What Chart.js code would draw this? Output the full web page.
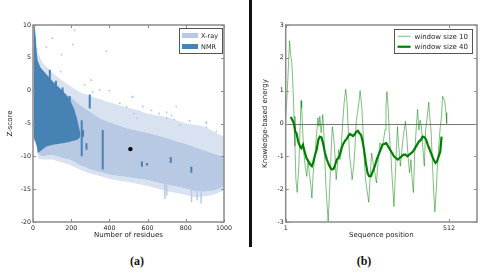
<!DOCTYPE html>
<html>
<head>
<meta charset="utf-8">
<script src="https://cdn.jsdelivr.net/npm/chart.js@4.4.1/dist/chart.umd.min.js"></script>
<style>
  body { margin: 0; background: #fff; width: 500px; height: 275px; position: relative; overflow: hidden; }
  #chart-a { position: absolute; left: 0; top: 0; }
  #chart-b { position: absolute; left: 250px; top: 0; }
  .divider { position: absolute; left: 249px; top: 0; width: 3px; height: 247px; background: #111; }
  .caption { position: absolute; top: 254px; font: bold 12px "Liberation Serif", "DejaVu Serif", serif; color: #111; transform: translateX(-50%); }
</style>
</head>
<body>
<canvas id="chart-a" width="240" height="250"></canvas>
<div class="divider"></div>
<canvas id="chart-b" width="250" height="250"></canvas>
<div class="caption" style="left:137px">(a)</div>
<div class="caption" style="left:364px">(b)</div>

<script>
// ---------- panel (a): Z-score vs number of residues ----------
const envX = [15, 30, 50, 100, 150, 200, 250, 300, 350, 400, 450, 500, 550, 600, 650, 700, 750, 800, 850, 900, 950, 1000];
const xraySparseTop = [7, 5.5, 4.2, 2.8, 1.6, 0.6, -0.3, -0.8, -1.3, -1.8, -2.2, -2.6, -3, -3.5, -3.8, -4, -4.5, -5, -5.2, -5.5, -6.3, -7];
const xrayDenseTop = [5, 3.5, 2.5, 1, 0, -1, -2.3, -3.2, -4.2, -4.8, -5.3, -5.8, -6.1, -6.4, -6.8, -7.2, -7.7, -8.1, -8.6, -9.1, -9.6, -10.1];
const xrayDenseBottom = [-7.5, -9.8, -10, -9.8, -10.2, -10.6, -11.4, -12, -12.4, -12.8, -13, -13.2, -13.4, -13.6, -14, -14.3, -14.6, -14.9, -15.3, -15.4, -15.2, -14.6];
const xraySparseBottom = [-8, -10.4, -10.5, -10.5, -10.9, -11.4, -12.1, -12.6, -13, -13.4, -13.7, -13.9, -14.2, -14.5, -14.9, -15.3, -15.6, -15.9, -16.2, -16.1, -15.8, -15.2];

const nmrX = [3, 8, 15, 20, 25, 40, 70, 110, 155, 190, 215, 230, 240, 248];
const nmrTop = [10, 10, 8, 5.5, 4.5, 3.5, 2.5, 1.2, 0, -1.2, -2.7, -4.2, -5.5, -6.5];
const nmrBottom = [-7, -7.5, -8, -8.5, -9.5, -9.2, -8.5, -8.2, -8, -7.8, -7.6, -7.5, -7.3, -7];

const nmrStreakX = [88, 120, 155, 192, 262, 297, 255, 365, 570, 597, 721, 829, 280];
const nmrStreakTop = [3.2, 1.5, 0.5, -0.8, -6, -0.6, -4.5, -6, -10.8, -11, -10.1, -11.6, -8];
const nmrStreakBottom = [1.8, 0.2, -1, -2, -7, -2.7, -10, -12, -11.6, -11.4, -11, -12.5, -9];

const xrayStreakX = [690, 700, 830, 860, 880];
const xrayStreakTop = [-14, -14.3, -15, -15.3, -15.4];
const xrayStreakBottom = [-16.5, -16, -17, -16.7, -17.2];

const outlierX = [218, 101, 210, 70, 384, 149, 145, 305, 349, 401, 270, 313, 454, 523, 575, 700, 725, 908, 908, 770, 518, 490, 530, 545, 660, 700, 740, 750, 907, 620, 820, 960];
const outlierY = [9.2, 8, 7, 6.6, 6, 5.5, 2.9, 1.6, 0.1, 0, 0.9, -0.2, -1.9, -0.9, -2.4, -3.3, -3.8, -4.8, -5.6, -5.3, -1, -2.5, -3.5, -4.2, -3.5, -4.2, -4.4, -2.4, -5, -3, -4.6, -6.2];

const queryPoint = { x: 510, y: -8.9 };

// ---------- panel (b): knowledge-based energy profile ----------
const win10Pos = [1, 4, 8, 13, 17, 20, 22, 25, 27, 30, 33, 37, 42, 46, 49, 51, 54, 58, 62, 67, 71, 75, 79, 83, 87, 93, 98, 102, 105, 108, 112, 117, 120, 123, 127, 131, 134, 139, 143, 147, 151, 155, 159, 163, 167, 171, 175, 180, 184, 189, 193, 197, 201, 205, 209, 214, 218, 222, 226, 230, 234, 239, 243, 247, 251, 256, 261, 265, 270, 275, 280, 285, 291, 296, 301, 306, 312, 315, 318, 322, 326, 330, 334, 340, 344, 348, 351, 355, 360, 364, 368, 372, 376, 380, 385, 389, 393, 397, 401, 405, 410, 414, 418, 422, 426, 430, 435, 439, 443, 449, 453, 456, 460, 464, 468, 472, 476, 481, 485, 489, 492, 495, 499, 503, 505];
const win10Val = [0.22, 0.63, 1.4, 2.52, 2.06, 1.87, 1.5, 0.83, 0.22, -0.69, -1.71, -2.1, -1.3, -0.18, 0.7, 0.48, -0.18, -0.9, -1.3, -1.61, -1.1, -1.53, -1.81, -2.27, -1.53, -0.9, -0.28, 0.17, -0.09, 0.22, -0.28, 0.27, -0.2, -1.0, -1.92, -2.53, -2.99, -1.92, -0.9, -0.1, -0.4, -0.9, -1.71, -1.3, -0.8, -1.1, -0.69, 0.1, 0.63, 1.04, 0.63, -0.2, -1.0, -1.3, -1.71, -1.3, -0.69, 0.1, 0.33, 0.63, 1.0, 0.53, -0.2, -1.1, -1.71, -2.05, -2.4, -1.71, -0.9, -1.2, -1.5, -1.81, -1.1, -0.59, -0.69, -0.59, -0.2, 0.53, 0.97, 0.43, -0.4, -0.9, -1.61, -2.53, -1.61, -0.69, -0.1, -0.69, -1.3, -0.9, -0.49, -0.2, 0.07, -0.4, -1.1, -1.5, -1.1, -1.71, -2.1, -0.9, -0.1, 0.43, -0.2, 0.1, -0.1, -0.69, -1.3, -0.2, 0.1, 0.65, 0.1, -0.2, -1.1, -2.0, -2.69, -2.1, -1.3, -0.59, -0.1, 0.22, 0.83, 0.78, 0.66, 0.33, 0.0];

const win40Pos = [17, 22, 27, 31, 35, 40, 46, 50, 55, 60, 66, 72, 78, 83, 88, 93, 98, 103, 108, 113, 118, 124, 130, 136, 141, 146, 151, 156, 161, 166, 171, 176, 181, 187, 192, 197, 202, 207, 212, 217, 222, 227, 232, 237, 242, 247, 252, 257, 262, 268, 274, 280, 286, 292, 298, 304, 310, 316, 322, 328, 334, 340, 346, 352, 358, 364, 370, 376, 382, 388, 394, 400, 406, 412, 418, 424, 430, 436, 441, 446, 452, 458, 464, 470, 475, 480, 485, 489];
const win40Val = [0.2, 0.1, 0.0, -0.25, -0.3, -0.55, -0.7, -0.75, -0.65, -0.85, -1.05, -1.15, -1.25, -1.3, -1.15, -0.95, -0.8, -0.5, -0.4, -0.42, -0.6, -0.9, -1.1, -1.25, -1.35, -1.4, -1.38, -1.25, -1.1, -1.05, -0.95, -0.75, -0.62, -0.52, -0.47, -0.38, -0.32, -0.35, -0.38, -0.33, -0.25, -0.22, -0.3, -0.35, -0.55, -0.85, -1.2, -1.5, -1.6, -1.6, -1.45, -1.3, -1.1, -0.95, -0.8, -0.65, -0.62, -0.6, -0.7, -0.8, -0.9, -1.0, -1.05, -1.1, -1.05, -1.0, -0.95, -0.95, -1.0, -0.95, -0.9, -0.85, -0.75, -0.65, -0.55, -0.5, -0.4, -0.42, -0.5, -0.65, -0.8, -0.95, -1.1, -1.2, -1.15, -1.0, -0.85, -0.4];

const seqTicks = [1, 512];

const XRAY = "#b8cae3";
const XRAY_SPARSE = "rgba(184, 202, 227, 0.55)";
const NMR = "#4682b4";
const GREEN = "#008000";
const THIN_GREEN = "rgba(0, 128, 0, 0.5)";

function pts(xs, ys) {
  return xs.map((x, i) => ({ x: x, y: ys[i] }));
}

function segments(xs, tops, bottoms) {
  let out = [];
  xs.forEach((x, i) => {
    out.push({ x: x, y: tops[i] }, { x: x, y: bottoms[i] }, { x: x, y: null });
  });
  return out;
}

// box round the plot, ticks pointing in, optional line at zero
const framePlugin = {
  id: "frame",
  beforeDatasetsDraw(chart, args, opts) {
    if (opts.zeroLine === undefined) return;
    const { ctx, chartArea: a, scales } = chart;
    const py = Math.round(scales.y.getPixelForValue(opts.zeroLine)) + 0.5;
    ctx.save();
    ctx.strokeStyle = "#777";
    ctx.lineWidth = 1;
    ctx.beginPath();
    ctx.moveTo(a.left, py);
    ctx.lineTo(a.right, py);
    ctx.stroke();
    ctx.restore();
  },
  afterDatasetsDraw(chart, args, opts) {
    const { ctx, chartArea: a, scales } = chart;
    const L = 3;
    ctx.save();
    ctx.strokeStyle = "#8a8a8a";
    ctx.lineWidth = 1;
    ctx.beginPath();
    scales.x.ticks.forEach(function (t) {
      const px = Math.round(scales.x.getPixelForValue(t.value)) + 0.5;
      ctx.moveTo(px, a.bottom);
      ctx.lineTo(px, a.bottom - L);
      ctx.moveTo(px, a.top);
      ctx.lineTo(px, a.top + L);
    });
    scales.y.ticks.forEach(function (t) {
      const py = Math.round(scales.y.getPixelForValue(t.value)) + 0.5;
      ctx.moveTo(a.left, py);
      ctx.lineTo(a.left + L, py);
      ctx.moveTo(a.right, py);
      ctx.lineTo(a.right - L, py);
    });
    ctx.stroke();
    ctx.lineWidth = 1.5;
    ctx.strokeRect(a.left, a.top, a.right - a.left, a.bottom - a.top);
    ctx.restore();
  },
};

// legend box inside the plot, top right
const boxLegendPlugin = {
  id: "boxLegend",
  afterDraw(chart, args, opts) {
    const { ctx, chartArea: a } = chart;
    ctx.save();
    ctx.font = opts.fontSize + "px 'DejaVu Sans'";
    let textW = 0;
    opts.items.forEach(function (it) {
      textW = Math.max(textW, ctx.measureText(it.label).width);
    });
    const w = opts.textX + textW + 4;
    const h = opts.rowH * opts.items.length + 3;
    const x0 = a.right - opts.right - w;
    const y0 = a.top + opts.top;
    ctx.fillStyle = "#fff";
    ctx.fillRect(x0, y0, w, h);
    ctx.strokeStyle = "#555";
    ctx.lineWidth = 1;
    ctx.strokeRect(Math.round(x0) + 0.5, Math.round(y0) + 0.5, Math.round(w), Math.round(h));
    opts.items.forEach(function (it, i) {
      const cy = y0 + 2 + opts.rowH * (i + 0.5);
      if (it.kind === "patch") {
        ctx.fillStyle = it.color;
        ctx.fillRect(x0 + 3, cy - 2.5, 16, 5);
      } else {
        ctx.strokeStyle = it.color;
        ctx.lineWidth = it.width;
        ctx.beginPath();
        ctx.moveTo(x0 + 4, cy);
        ctx.lineTo(x0 + 17, cy);
        ctx.stroke();
      }
      ctx.fillStyle = "#222";
      ctx.textBaseline = "middle";
      ctx.fillText(it.label, x0 + opts.textX, cy + 0.5);
    });
    ctx.restore();
  },
};

const tickFont = { family: "DejaVu Sans", size: 6.3 };
const titleFont = { family: "DejaVu Sans", size: 7 };
const plainTick = function (v) { return String(v); };

new Chart(document.getElementById("chart-a"), {
  type: "line",
  data: {
    datasets: [
      { data: pts(envX, xraySparseTop), fill: 1, backgroundColor: XRAY_SPARSE, borderWidth: 0, pointRadius: 0, order: 9 },
      { data: pts(envX, xrayDenseTop), fill: 2, backgroundColor: XRAY, borderWidth: 0, pointRadius: 0, order: 8 },
      { data: pts(envX, xrayDenseBottom), fill: 3, backgroundColor: XRAY_SPARSE, borderWidth: 0, pointRadius: 0, order: 7 },
      { data: pts(envX, xraySparseBottom), fill: false, borderWidth: 0, pointRadius: 0, order: 6 },
      { data: pts(nmrX, nmrTop), fill: 5, backgroundColor: NMR, borderWidth: 0, pointRadius: 0, order: 4 },
      { data: pts(nmrX, nmrBottom), fill: false, borderWidth: 0, pointRadius: 0, order: 4 },
      { data: segments(xrayStreakX, xrayStreakTop, xrayStreakBottom), borderColor: XRAY, borderWidth: 1.5, pointRadius: 0, spanGaps: false, order: 5 },
      { data: segments(nmrStreakX, nmrStreakTop, nmrStreakBottom), borderColor: NMR, borderWidth: 2, pointRadius: 0, spanGaps: false, order: 3 },
      { data: pts(outlierX, outlierY), showLine: false, pointStyle: "rect", pointRadius: 1.2, pointBackgroundColor: XRAY, pointBorderWidth: 0, order: 2 },
      { data: [queryPoint], showLine: false, pointRadius: 2.2, pointBackgroundColor: "#000", pointBorderWidth: 0, order: 0 },
    ],
  },
  options: {
    responsive: false,
    animation: false,
    layout: { padding: { top: 25, right: 16, left: 0, bottom: 0 } },
    plugins: {
      legend: { display: false },
      tooltip: { enabled: false },
      frame: {},
      boxLegend: {
        fontSize: 6.5, textX: 22, rowH: 11, right: 2, top: 3,
        items: [
          { kind: "patch", label: "X-ray", color: XRAY },
          { kind: "patch", label: "NMR", color: NMR },
        ],
      },
    },
    scales: {
      x: {
        type: "linear", min: 0, max: 1000,
        ticks: { stepSize: 200, font: tickFont, color: "#222", padding: 3, maxRotation: 0, callback: plainTick },
        grid: { display: false, drawTicks: false },
        border: { display: false },
        title: { display: true, text: "Number of residues", font: titleFont, color: "#222", padding: { top: 0, bottom: 11 } },
        afterFit: function (s) { s.height = 28; },
      },
      y: {
        type: "linear", min: -20, max: 10,
        ticks: { stepSize: 5, font: tickFont, color: "#222", padding: 2, callback: plainTick },
        grid: { display: false, drawTicks: false },
        border: { display: false },
        title: { display: true, text: "Z-score", font: titleFont, color: "#222", padding: { top: 6.3, bottom: 0 } },
        afterFit: function (s) { s.width = 33; },
      },
    },
  },
  plugins: [framePlugin, boxLegendPlugin],
});

new Chart(document.getElementById("chart-b"), {
  type: "line",
  data: {
    datasets: [
      { label: "window size 40", data: pts(win40Pos, win40Val), borderColor: GREEN, borderWidth: 2.2, pointRadius: 0, tension: 0, fill: false },
      { label: "window size 10", data: pts(win10Pos, win10Val), borderColor: THIN_GREEN, borderWidth: 1, pointRadius: 0, tension: 0, fill: false },
    ],
  },
  options: {
    responsive: false,
    animation: false,
    layout: { padding: { top: 25, right: 23, left: 0, bottom: 0 } },
    plugins: {
      legend: { display: false },
      tooltip: { enabled: false },
      frame: { zeroLine: 0 },
      boxLegend: {
        fontSize: 7, textX: 21, rowH: 10.5, right: 5, top: 4,
        items: [
          { kind: "line", label: "window size 10", color: THIN_GREEN, width: 1 },
          { kind: "line", label: "window size 40", color: GREEN, width: 2.2 },
        ],
      },
    },
    scales: {
      x: {
        type: "linear", min: 1, max: 600,
        afterBuildTicks: function (s) { s.ticks = seqTicks.map((v) => ({ value: v })); },
        ticks: { font: tickFont, color: "#222", padding: 3, maxRotation: 0, autoSkip: false, callback: plainTick },
        grid: { display: false, drawTicks: false },
        border: { display: false },
        title: { display: true, text: "Sequence position", font: titleFont, color: "#222", padding: { top: 0, bottom: 11 } },
        afterFit: function (s) { s.height = 28; },
      },
      y: {
        type: "linear", min: -3, max: 3,
        ticks: { stepSize: 1, font: tickFont, color: "#222", padding: 2, callback: plainTick },
        grid: { display: false, drawTicks: false },
        border: { display: false },
        title: { display: true, text: "Knowledge-based energy", font: titleFont, color: "#222", padding: { top: 10.8, bottom: 0 } },
        afterFit: function (s) { s.width = 35.7; },
      },
    },
  },
  plugins: [framePlugin, boxLegendPlugin],
});
</script>
</body>
</html>
